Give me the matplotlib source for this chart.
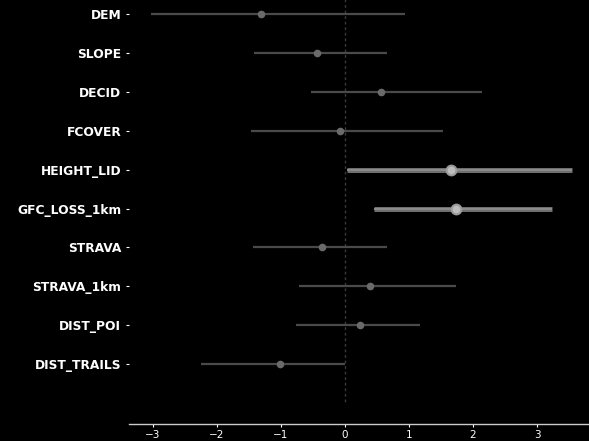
import matplotlib
matplotlib.use("Agg")
import matplotlib.pyplot as plt
import numpy as np

variables = ["DEM", "SLOPE", "DECID", "FCOVER", "HEIGHT_LID", "GFC_LOSS_1km",
             "STRAVA", "STRAVA_1km", "DIST_POI", "DIST_TRAILS"]
estimate = [-1.31, -0.44, 0.56, -0.08, 1.65, 1.74, -0.36, 0.39, 0.23, -1.01]
ci_low = [-3.03, -1.42, -0.53, -1.46, 0.03, 0.46, -1.43, -0.71, -0.76, -2.25]
ci_high = [0.94, 0.66, 2.14, 1.53, 3.55, 3.23, 0.65, 1.73, 1.17, 0.00]

fig = plt.figure(figsize=(5.89, 4.41), dpi=100, facecolor="black")
ax = fig.add_axes([0.219, 0.0385, 0.781, 0.9615], facecolor="black")

ypos = np.arange(len(variables))
ax.vlines(0, -1, len(variables), colors="#3a3a3a", linestyles=(0, (2, 2)), linewidth=1, zorder=1)

for y, est, lo, hi in zip(ypos, estimate, ci_low, ci_high):
    significant = lo > 0 or hi < 0
    if significant:
        ax.plot([lo, hi], [y, y], color="#6e6e6e", linewidth=3.6, solid_capstyle="butt", zorder=2)
        ax.plot([lo, hi], [y, y], color="#8c8c8c", linewidth=1.4, solid_capstyle="butt", zorder=3)
        ax.plot(est, y, "o", color="#9a9a9a", markersize=8.5, markeredgewidth=0, zorder=4)
        ax.plot(est, y, "o", color="#bdbdbd", markersize=5.5, markeredgewidth=0, zorder=5)
    else:
        ax.plot([lo, hi], [y, y], color="#4a4a4a", linewidth=1.6, solid_capstyle="butt", zorder=2)
        ax.plot(est, y, "o", color="#6a6a6a", markersize=5.5, markeredgewidth=0, zorder=4)

ax.set_yticks(ypos)
ax.set_yticklabels(variables, fontsize=8.8, fontweight="bold", color="white")
ax.set_xlim(-3.37, 3.81)
ax.set_ylim(10.54, -0.36)
ax.set_xticks([-3, -2, -1, 0, 1, 2, 3])
ax.tick_params(axis="x", colors="white", labelsize=7.5, length=2.5, width=0.8, pad=2)
ax.tick_params(axis="y", colors="white", length=2.5, width=0.8, pad=3)
for side in ["left", "right", "top"]:
    ax.spines[side].set_visible(False)
ax.spines["bottom"].set_color("#cccccc")
ax.spines["bottom"].set_linewidth(1)

fig.savefig("out.png", dpi=100, facecolor="black")
